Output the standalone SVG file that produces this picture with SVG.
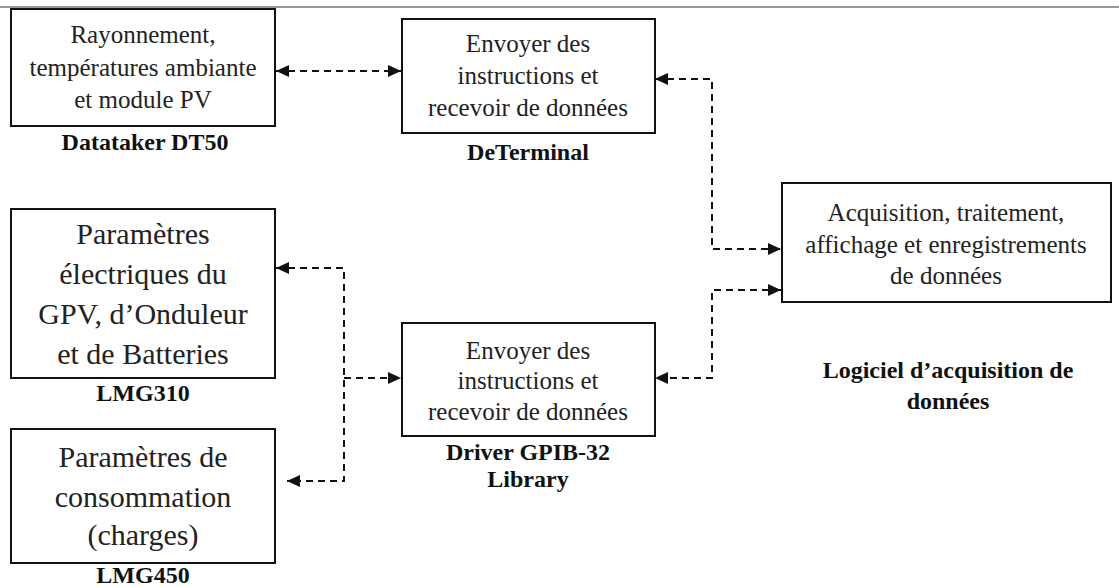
<svg xmlns="http://www.w3.org/2000/svg" width="1119" height="587" viewBox="0 0 1119 587">
<style>
.box{fill:#fff;stroke:#111;stroke-width:2}
.t{font-family:"Liberation Serif","Times New Roman",serif;font-size:25px;fill:#222;text-anchor:middle}
.tl{font-family:"Liberation Serif","Times New Roman",serif;font-size:30px;fill:#222;text-anchor:middle}
.lb{font-family:"Liberation Serif","Times New Roman",serif;font-size:24px;font-weight:bold;fill:#111;text-anchor:middle}
.c{fill:none;stroke:#111;stroke-width:2;stroke-dasharray:7,5;marker-start:url(#ah);marker-end:url(#ah)}
.c1{fill:none;stroke:#111;stroke-width:2;stroke-dasharray:7,5;marker-end:url(#ah)}
</style>
<defs>
<marker id="ah" markerUnits="userSpaceOnUse" markerWidth="14" markerHeight="12" refX="13" refY="6" orient="auto-start-reverse">
<path d="M0,0 L13,6 L0,12 z" fill="#111"/>
</marker>
</defs>
<rect width="1119" height="587" fill="#fff"/>
<line x1="0" y1="7" x2="1119" y2="7" stroke="#999" stroke-width="2"/>

<g id="connectors">
<path class="c" d="M276,71 H401"/>
<path class="c" d="M655,79 H712 V249 H781"/>
<path class="c" d="M781,290 H712 V378 H655"/>
<path class="c" d="M276,268 H344 V481 H287"/>
<path class="c1" d="M344,378 H401"/>
</g>

<g id="datataker">
<rect class="box" x="11" y="9" width="264" height="117"/>
<text class="t" x="143" y="43">Rayonnement,</text>
<text class="t" x="143" y="76">températures ambiante</text>
<text class="t" x="143" y="108">et module PV</text>
<text class="lb" x="145" y="150">Datataker DT50</text>
</g>

<g id="determinal">
<rect class="box" x="402" y="19" width="253" height="114"/>
<text class="t" x="528" y="52">Envoyer des</text>
<text class="t" x="528" y="84">instructions et</text>
<text class="t" x="528" y="116">recevoir de données</text>
<text class="lb" x="528" y="160">DeTerminal</text>
</g>

<g id="acquisition">
<rect class="box" x="782" y="183" width="329" height="119"/>
<text class="t" x="946" y="221">Acquisition, traitement,</text>
<text class="t" x="946" y="253">affichage et enregistrements</text>
<text class="t" x="946" y="284">de données</text>
</g>

<g id="logiciel">
<text class="lb" x="948" y="378">Logiciel d’acquisition de</text>
<text class="lb" x="948" y="409">données</text>
</g>

<g id="driver">
<rect class="box" x="402" y="323" width="253" height="113"/>
<text class="t" x="528" y="359">Envoyer des</text>
<text class="t" x="528" y="389">instructions et</text>
<text class="t" x="528" y="420">recevoir de données</text>
<text class="lb" x="528" y="460">Driver GPIB-32</text>
<text class="lb" x="528" y="487">Library</text>
</g>

<g id="lmg310">
<rect class="box" x="11" y="209" width="264" height="169"/>
<text class="tl" x="143" y="244">Paramètres</text>
<text class="tl" x="143" y="284">électriques du</text>
<text class="tl" x="143" y="324">GPV, d’Onduleur</text>
<text class="tl" x="143" y="364">et de Batteries</text>
<text class="lb" x="143" y="401">LMG310</text>
</g>

<g id="lmg450">
<rect class="box" x="11" y="429" width="264" height="134"/>
<text class="tl" x="143" y="467">Paramètres de</text>
<text class="tl" x="143" y="507">consommation</text>
<text class="tl" x="143" y="545">(charges)</text>
<text class="lb" x="143" y="583">LMG450</text>
</g>
</svg>
